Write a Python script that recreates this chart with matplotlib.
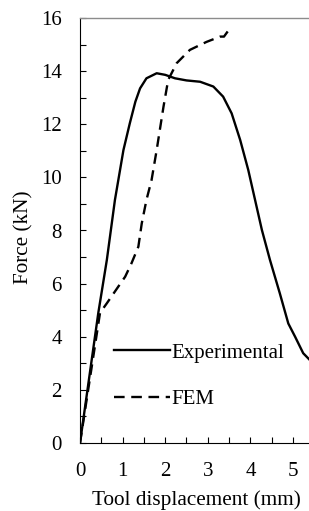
import numpy as np
import matplotlib.pyplot as plt
from matplotlib.ticker import MultipleLocator

plt.rcParams['font.family'] = ['Liberation Serif', 'DejaVu Serif']

# Experimental curve
exp_x = [0, 0.43, 0.63, 0.82, 1.02, 1.17, 1.3, 1.41, 1.56, 1.8, 2.0, 2.23, 2.5,
         2.82, 3.13, 3.36, 3.56, 3.76, 3.95, 4.11, 4.27, 4.46, 4.69, 4.89, 5.05,
         5.24, 5.38]
exp_y = [0, 4.9, 6.89, 9.15, 11.03, 12.04, 12.85, 13.35, 13.73, 13.92, 13.86, 13.73, 13.65,
         13.6, 13.42, 13.04, 12.41, 11.41, 10.28, 9.15, 8.02, 6.89, 5.64, 4.5, 4.0,
         3.38, 3.15]

# FEM curve
fem_x = [0, 0.47, 0.63, 0.9, 1.06, 1.21, 1.37, 1.45, 1.56, 1.68, 1.8, 1.96,
         2.07, 2.27, 2.58, 2.97, 3.29, 3.38, 3.47]
fem_y = [0, 4.9, 5.26, 5.89, 6.26, 6.77, 7.39, 8.27, 9.15, 9.9, 11.03, 12.66,
         13.67, 14.3, 14.8, 15.1, 15.3, 15.3, 15.5]

fig = plt.figure(figsize=(3.09, 5.11), dpi=100)
ax = fig.add_axes([80/309, 68/511, 229/309, 425/511])

ax.plot(exp_x, exp_y, color='black', lw=1.7, solid_joinstyle='round',
        label='Experimental')
ax.plot(fem_x, fem_y, color='black', lw=1.7, ls=(0, (4.5, 2.8)),
        dash_joinstyle='round', label='FEM')

ax.set_xlim(0, 5.376)
ax.set_ylim(0, 16)
ax.xaxis.set_major_locator(MultipleLocator(1))
ax.xaxis.set_minor_locator(MultipleLocator(0.5))
ax.yaxis.set_major_locator(MultipleLocator(2))
ax.yaxis.set_minor_locator(MultipleLocator(1))
ax.tick_params(which='both', direction='in', length=4, width=0.8, labelsize=15, pad=13)
ax.tick_params(axis='x', pad=14)

ax.spines['right'].set_visible(False)
ax.spines['top'].set_color('#8c8c8c')
ax.spines['top'].set_linewidth(1.0)

ax.set_xlabel('Tool displacement (mm)', fontsize=15.3)
ax.set_ylabel('Force (kN)', fontsize=15.3)
ax.xaxis.set_label_coords(0.51, -0.112)
ax.yaxis.set_label_coords(-0.205, 0.485)

ax.legend(loc='lower left', bbox_to_anchor=(0.11, 0.06), frameon=False, fontsize=15,
          handlelength=2.7, handletextpad=0.1, labelspacing=1.3, borderaxespad=0)

fig.savefig('out.png', dpi=100)
